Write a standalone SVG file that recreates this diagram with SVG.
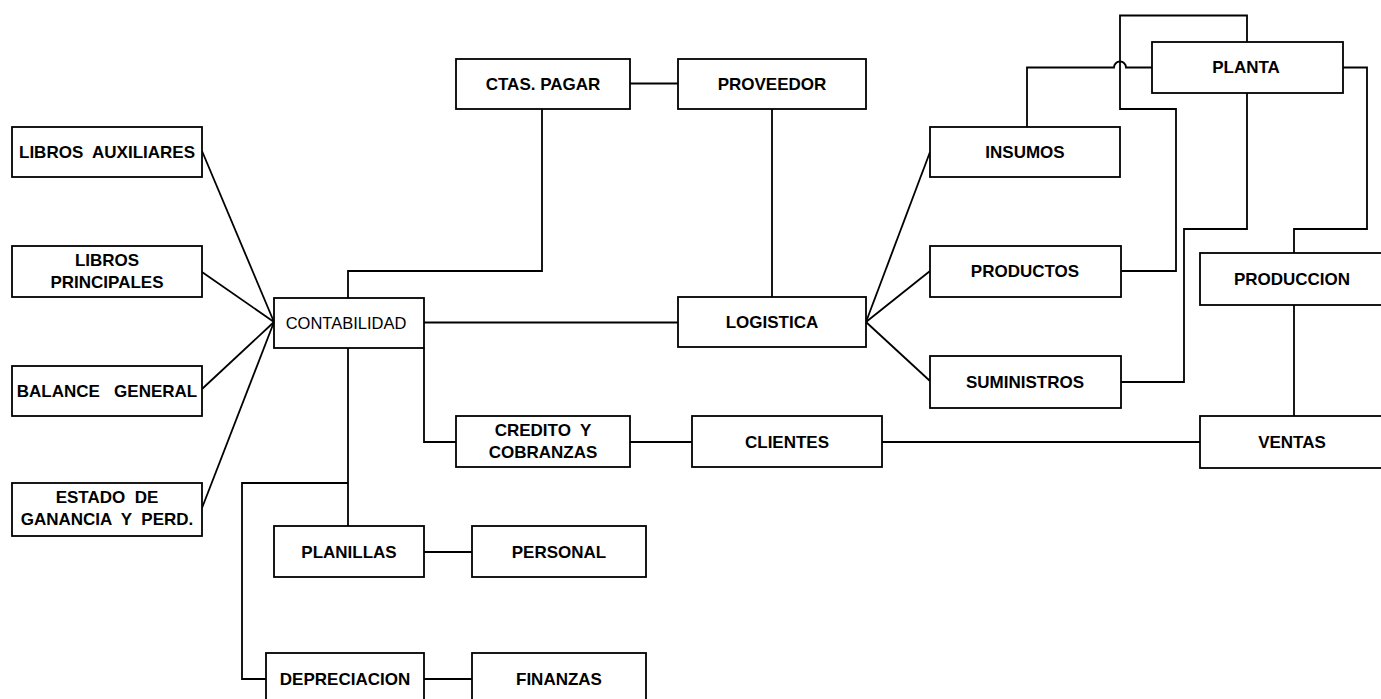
<svg xmlns="http://www.w3.org/2000/svg" width="1381" height="699" viewBox="0 0 1381 699">
  <style>
    .box { fill: #ffffff; stroke: #000000; stroke-width: 1.8; }
    .lbl { font-family: "Liberation Sans", Arial, sans-serif; font-size: 17px; font-weight: bold; text-anchor: middle; fill: #000000; }
    .reg { font-weight: normal; font-size: 16.5px; }
    .conn { fill: none; stroke: #000000; stroke-width: 1.8; }
  </style>
  <rect width="1381" height="699" fill="#ffffff"/>

  <!-- connectors -->
  <g id="connectors" class="conn">
    <!-- reports fanning into CONTABILIDAD -->
    <path d="M202 151 L274 322"/>
    <path d="M202 272 L274 322"/>
    <path d="M202 389 L274 322"/>
    <path d="M202 508 L274 322"/>
    <!-- CONTABILIDAD to CTAS. PAGAR -->
    <path d="M348 298 V271 H542 V109"/>
    <path d="M630 83.5 H678"/>
    <path d="M772 109 V297"/>
    <path d="M424 322.5 H678"/>
    <!-- CONTABILIDAD to CREDITO Y COBRANZAS -->
    <path d="M424 348 V442 H456"/>
    <path d="M630 442 H692"/>
    <path d="M882 442 H1200"/>
    <!-- CONTABILIDAD down to PLANILLAS and DEPRECIACION -->
    <path d="M348 348 V526"/>
    <path d="M348 483 H242 V679 H266"/>
    <path d="M424 552 H472"/>
    <path d="M424 679 H472"/>
    <!-- LOGISTICA fan -->
    <path d="M866 322 L930 152"/>
    <path d="M866 322 L930 271"/>
    <path d="M866 322 L930 381"/>
    <!-- INSUMOS to PLANTA, hopping the vertical at x=1120 -->
    <path d="M1027 127 V67.5 H1114 A6 6 0 0 1 1126 67.5 H1152"/>
    <!-- PLANTA top loop down to PRODUCTOS -->
    <path d="M1247 42 V15.5 H1120 V109 H1176 V271 H1121"/>
    <!-- PLANTA bottom to SUMINISTROS -->
    <path d="M1247 93 V229 H1184 V382 H1121"/>
    <!-- PLANTA right to PRODUCCION -->
    <path d="M1343 67.5 H1367 V229 H1294 V253"/>
    <path d="M1294 305 V416"/>
  </g>

  <g id="libros-auxiliares">
    <rect class="box" x="12" y="127" width="190" height="50"/>
    <text class="lbl" x="107" y="158" xml:space="preserve">LIBROS  AUXILIARES</text>
  </g>
  <g id="libros-principales">
    <rect class="box" x="12" y="246" width="190" height="51"/>
    <text class="lbl" x="107" y="265.5">LIBROS</text>
    <text class="lbl" x="107" y="287.5">PRINCIPALES</text>
  </g>
  <g id="balance-general">
    <rect class="box" x="12" y="366" width="190" height="50"/>
    <text class="lbl" x="107" y="397" xml:space="preserve">BALANCE   GENERAL</text>
  </g>
  <g id="estado-ganancia">
    <rect class="box" x="12" y="483" width="190" height="53"/>
    <text class="lbl" x="107" y="503" xml:space="preserve">ESTADO  DE</text>
    <text class="lbl" x="107" y="525" xml:space="preserve">GANANCIA  Y  PERD.</text>
  </g>
  <g id="contabilidad">
    <rect class="box" x="274" y="298" width="150" height="50"/>
    <text class="lbl reg" x="346" y="328.5">CONTABILIDAD</text>
  </g>
  <g id="ctas-pagar">
    <rect class="box" x="456" y="59" width="174" height="50"/>
    <text class="lbl" x="543" y="90">CTAS. PAGAR</text>
  </g>
  <g id="proveedor">
    <rect class="box" x="678" y="59" width="188" height="50"/>
    <text class="lbl" x="772" y="90">PROVEEDOR</text>
  </g>
  <g id="logistica">
    <rect class="box" x="678" y="297" width="188" height="50"/>
    <text class="lbl" x="772" y="328">LOGISTICA</text>
  </g>
  <g id="credito-cobranzas">
    <rect class="box" x="456" y="416" width="174" height="51"/>
    <text class="lbl" x="543" y="436" xml:space="preserve">CREDITO  Y</text>
    <text class="lbl" x="543" y="457.5">COBRANZAS</text>
  </g>
  <g id="clientes">
    <rect class="box" x="692" y="416" width="190" height="51"/>
    <text class="lbl" x="787" y="447.5">CLIENTES</text>
  </g>
  <g id="planillas">
    <rect class="box" x="274" y="526" width="150" height="51"/>
    <text class="lbl" x="349" y="557.5">PLANILLAS</text>
  </g>
  <g id="personal">
    <rect class="box" x="472" y="526" width="174" height="51"/>
    <text class="lbl" x="559" y="557.5">PERSONAL</text>
  </g>
  <g id="depreciacion">
    <rect class="box" x="266" y="653" width="158" height="51"/>
    <text class="lbl" x="345" y="684.5">DEPRECIACION</text>
  </g>
  <g id="finanzas">
    <rect class="box" x="472" y="653" width="174" height="51"/>
    <text class="lbl" x="559" y="684.5">FINANZAS</text>
  </g>
  <g id="insumos">
    <rect class="box" x="930" y="127" width="190" height="50"/>
    <text class="lbl" x="1025" y="158">INSUMOS</text>
  </g>
  <g id="productos">
    <rect class="box" x="930" y="246" width="191" height="51"/>
    <text class="lbl" x="1025" y="277">PRODUCTOS</text>
  </g>
  <g id="suministros">
    <rect class="box" x="930" y="356" width="191" height="52"/>
    <text class="lbl" x="1025" y="387.5">SUMINISTROS</text>
  </g>
  <g id="planta">
    <rect class="box" x="1152" y="42" width="191" height="51"/>
    <text class="lbl" x="1246" y="73">PLANTA</text>
  </g>
  <g id="produccion">
    <rect class="box" x="1200" y="253" width="188" height="52"/>
    <text class="lbl" x="1292" y="285">PRODUCCION</text>
  </g>
  <g id="ventas">
    <rect class="box" x="1200" y="416" width="188" height="52"/>
    <text class="lbl" x="1292" y="448">VENTAS</text>
  </g>
</svg>
